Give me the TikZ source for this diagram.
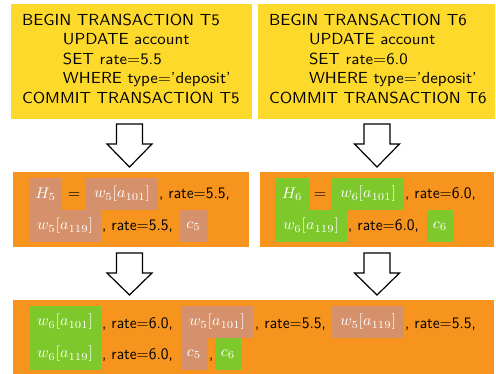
\documentclass[tikz,border=0pt]{standalone}
\usepackage{graphicx}
\usepackage{xcolor}
\definecolor{ylw}{HTML}{FDD92C}
\definecolor{org}{HTML}{F7941D}
\definecolor{brn}{HTML}{D5916B}
\definecolor{grn}{HTML}{7DC92B}
\newcommand\fnt{\fontsize{10}{12}\selectfont\sffamily}
\newcommand\sx[1]{\scalebox{1.69}[1.6]{#1}}
\newcommand\sy[1]{\scalebox{1.55}[1.6]{#1}}
\newcommand\sm[1]{\scalebox{1.6}[1.55]{$#1$}}
\begin{document}
\begin{tikzpicture}[x=1pt,y=-1pt,
  every node/.style={font=\fnt, inner sep=0pt, outer sep=0pt},
  panel/.style={anchor=north west, draw=none},
  ln/.style={anchor=base west},
  mb/.style={anchor=north west, minimum height=32, text=white},
  bb/.style={mb, fill=brn},
  gb/.style={mb, fill=grn},
  arr/.style={draw=black, fill=white, line width=1.2pt, line join=miter},
  pics/blkarrow/.style={code={
    \draw[arr] (-13,0) -- (13,0) -- (13,20) -- (22.5,20) -- (0,#1) -- (-22.5,20) -- (-13,20) -- cycle;}}
]
\useasboundingbox (0,0) rectangle (496,374);
% yellow panels
\node[panel, fill=ylw, minimum width=241, minimum height=115] (Y5) at (11,4) {};
\node[panel, fill=ylw, minimum width=237, minimum height=115] (Y6) at (258,4) {};
\node[ln] (a1) at (22,25.5) {\sx{BEGIN TRANSACTION T5}};
\node[ln] (a2) at (63,45) {\sx{UPDATE account}};
\node[ln] (a3) at (63,64.5) {\sx{SET rate=5.5}};
\node[ln] (a4) at (63,84) {\sx{WHERE type='deposit'}};
\node[ln] (a5) at (22,103.5) {\sx{COMMIT TRANSACTION T5}};
\node[ln] (b1) at (269,25.5) {\sx{BEGIN TRANSACTION T6}};
\node[ln] (b2) at (309,45) {\sx{UPDATE account}};
\node[ln] (b3) at (309,64.5) {\sx{SET rate=6.0}};
\node[ln] (b4) at (309,84) {\sx{WHERE type='deposit'}};
\node[ln] (b5) at (269,103.5) {\sx{COMMIT TRANSACTION T6}};
% arrows
\pic at (129.5,124) {blkarrow=43};
\pic at (377,124) {blkarrow=43};
\pic at (129.5,253) {blkarrow=42};
\pic at (377,253) {blkarrow=42};
% middle orange panels
\node[panel, fill=org, minimum width=236, minimum height=75] (O5) at (13,172) {};
\node[panel, fill=org, minimum width=234, minimum height=75] (O6) at (260,172) {};
% H5 history
\node[bb, minimum width=33] (h5) at (29,178) {\sm{H_5}};
\node[anchor=base] (e5) at (74,198.5) {\sm{=}};
\node[bb, minimum width=72] (h5w1) at (86,178) {\sm{w_5[a_{101}]}};
\node[ln] (h5t1) at (159,198.5) {\sy{, rate=5.5,}};
\node[bb, minimum width=72] (h5w2) at (29,210) {\sm{w_5[a_{119}]}};
\node[ln] (h5t2) at (102,231) {\sy{, rate=5.5,}};
\node[bb, minimum width=27] (h5c) at (180,210) {\sm{c_5}};
% H6 history
\node[gb, minimum width=34] (h6) at (275,178) {\sm{H_6}};
\node[anchor=base] (e6) at (320,198.5) {\sm{=}};
\node[gb, minimum width=72] (h6w1) at (332,178) {\sm{w_6[a_{101}]}};
\node[ln] (h6t1) at (405,198.5) {\sy{, rate=6.0,}};
\node[gb, minimum width=72] (h6w2) at (275,210) {\sm{w_6[a_{119}]}};
\node[ln] (h6t2) at (348,231) {\sy{, rate=6.0,}};
\node[gb, minimum width=26] (h6c) at (427,210) {\sm{c_6}};
% merged history
\node[panel, fill=org, minimum width=481, minimum height=74] (OM) at (13,300) {};
\node[gb, minimum width=72] (m1) at (29,306) {\sm{w_6[a_{101}]}};
\node[ln] (mt1) at (102,328.5) {\sy{, rate=6.0,}};
\node[bb, minimum width=72] (m2) at (181,306) {\sm{w_5[a_{101}]}};
\node[ln] (mt2) at (255,328.5) {\sy{, rate=5.5,}};
\node[bb, minimum width=72] (m3) at (332,306) {\sm{w_5[a_{119}]}};
\node[ln] (mt3) at (405,328.5) {\sy{, rate=5.5,}};
\node[gb, minimum width=72] (m4) at (29,338) {\sm{w_6[a_{119}]}};
\node[ln] (mt4) at (102,360) {\sy{, rate=6.0,}};
\node[bb, minimum width=26] (m5) at (181,338) {\sm{c_5}};
\node[ln] (mt5) at (209,360) {\sy{,}};
\node[gb, minimum width=26] (m6) at (215,338) {\sm{c_6}};
\end{tikzpicture}
\end{document}
